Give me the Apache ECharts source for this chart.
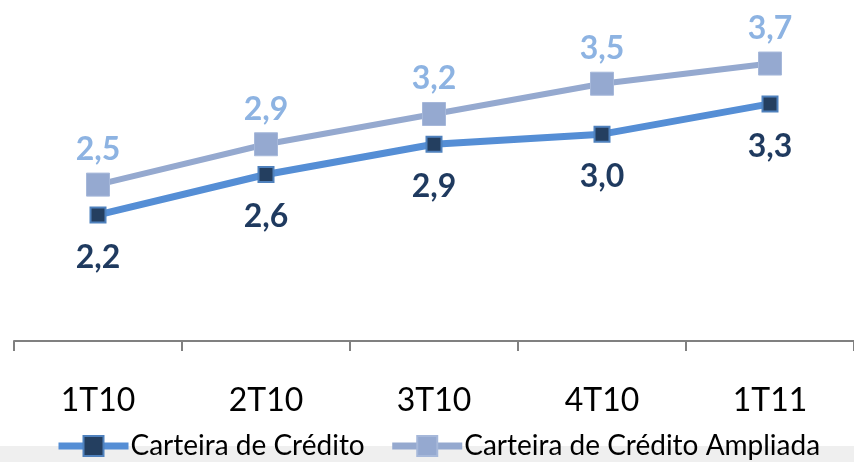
<!DOCTYPE html>
<html>
<head>
<meta charset="utf-8">
<script src="https://cdn.jsdelivr.net/npm/echarts@6/dist/echarts.min.js"></script>
<style>
  html, body { margin: 0; padding: 0; background: #fff; }
  #chart { width: 854px; height: 462px; }
</style>
</head>
<body>
<div id="chart"></div>
<script>
// categorias (trimestres)
var quarters = ['1T10', '2T10', '3T10', '4T10', '1T11'];
// séries
var carteira = [2.2, 2.6, 2.9, 3.0, 3.3];
var carteiraAmpliada = [2.5, 2.9, 3.2, 3.5, 3.7];
var seriesNames = ['Carteira de Crédito', 'Carteira de Crédito Ampliada'];

var font = 'Lato, "Open Sans", sans-serif';
function fmt(p) {
    return p.value.toFixed(1).replace('.', ',');
}

var chart = echarts.init(document.getElementById('chart'));
chart.setOption({
    animation: false,
    graphic: [{
        type: 'rect',
        left: 0, top: 446,
        shape: { width: 854, height: 16 },
        style: { fill: '#efefef' },
        z: -1
    }],
    grid: { left: 14, top: 3, width: 843, height: 338 },
    legend: {
        left: 55,
        top: 432,
        padding: 0,
        itemWidth: 70,
        itemHeight: 25,
        itemGap: 24,
        lineStyle: { width: 7 },
        textStyle: { fontFamily: font, fontSize: 28, color: '#000', padding: [0, 0, 0, -3] },
        data: seriesNames
    },
    xAxis: {
        type: 'category',
        data: quarters,
        boundaryGap: true,
        axisLine: { lineStyle: { color: '#808080', width: 2 } },
        axisTick: { show: true, length: 10, lineStyle: { color: '#808080', width: 2 } },
        axisLabel: { margin: 44, fontFamily: font, fontSize: 32, color: '#000' }
    },
    yAxis: {
        type: 'value',
        min: 0.95,
        max: 4.3,
        show: false,
        splitLine: { show: false }
    },
    series: [{
        name: seriesNames[0],
        type: 'line',
        data: carteira,
        symbol: 'rect',
        symbolSize: 15,
        lineStyle: { color: '#558ed5', width: 7 },
        itemStyle: { color: '#243f60', borderColor: '#4f81bd', borderWidth: 2 },
        label: {
            show: true, position: 'bottom', distance: 18,
            formatter: fmt,
            fontFamily: font, fontSize: 32, fontWeight: 'bold', color: '#1f3a5f'
        },
        z: 3
    }, {
        name: seriesNames[1],
        type: 'line',
        data: carteiraAmpliada,
        symbol: 'rect',
        symbolSize: 23,
        lineStyle: { color: '#95a9cf', width: 6 },
        itemStyle: { color: '#95a9d0', borderColor: '#a6b8da', borderWidth: 1 },
        label: {
            show: true, position: 'top', distance: 7,
            formatter: fmt,
            fontFamily: font, fontSize: 32, fontWeight: 'bold', color: '#8db3e2'
        },
        z: 2
    }]
});
</script>
</body>
</html>
